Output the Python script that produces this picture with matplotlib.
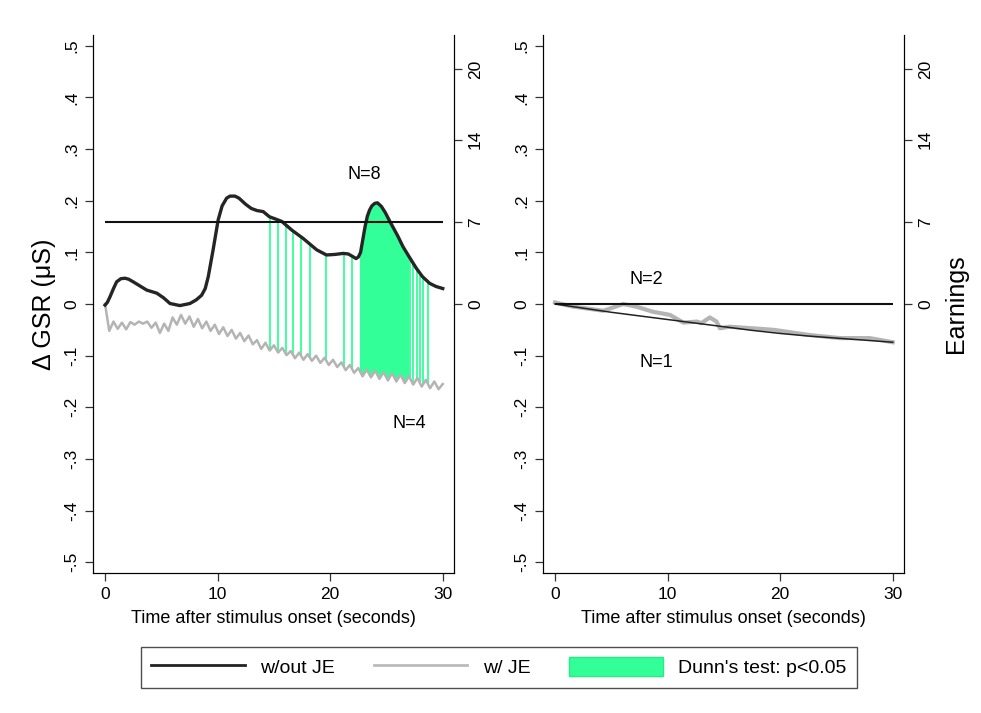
import numpy as np
import matplotlib
matplotlib.use("Agg")
import matplotlib.pyplot as plt
from matplotlib.lines import Line2D
from matplotlib.patches import Patch

plt.rcParams['font.family'] = ['Liberation Sans', 'DejaVu Sans']

# ---- data ----
# left panel, w/out JE (N=8)
black_t_left = [0, 0.2, 0.44, 0.75, 1.03, 1.4, 1.77, 2.1, 2.5, 3.1, 3.7, 4.6, 5.2,
                5.77, 6.65, 7.54, 8.1, 8.58, 8.9, 9.17, 9.6, 10.05, 10.4, 10.8, 11.1,
                11.54, 11.9, 12.5, 13.0, 13.5, 14.05, 14.6, 15.1, 15.7, 16.6, 17.6,
                18.8, 19.67, 20.4, 21.15, 21.6, 22.0, 22.3, 22.5, 22.7, 22.9, 23.1,
                23.3, 23.5, 23.7, 23.96, 24.2, 24.55, 24.9, 25.3, 25.7, 26.0, 26.47,
                27.0, 27.66, 28.2, 28.84, 29.4, 30.0]
black_left = [-0.002, 0.003, 0.014, 0.030, 0.043, 0.049, 0.050, 0.048, 0.043, 0.035,
              0.027, 0.021, 0.012, 0.001, -0.003, 0.001, 0.008, 0.017, 0.030, 0.053,
              0.105, 0.163, 0.190, 0.205, 0.209, 0.209, 0.205, 0.193, 0.185, 0.181,
              0.179, 0.169, 0.165, 0.160, 0.143, 0.127, 0.105, 0.095, 0.096, 0.098,
              0.097, 0.092, 0.088, 0.091, 0.100, 0.125, 0.150, 0.170, 0.182, 0.190,
              0.195, 0.196, 0.189, 0.177, 0.160, 0.144, 0.132, 0.111, 0.092, 0.069,
              0.053, 0.040, 0.034, 0.030]

# left panel, w/ JE (N=4), sampled every 0.375 s (peaks / troughs)
gray_left = [0.000, -0.052, -0.034, -0.048, -0.036, -0.049, -0.035, -0.040, -0.034,
             -0.038, -0.034, -0.046, -0.036, -0.056, -0.038, -0.052, -0.026, -0.040,
             -0.021, -0.038, -0.024, -0.044, -0.029, -0.047, -0.034, -0.052, -0.040,
             -0.058, -0.045, -0.062, -0.050, -0.067, -0.056, -0.072, -0.061, -0.078,
             -0.070, -0.087, -0.075, -0.090, -0.080, -0.094, -0.085, -0.099, -0.091,
             -0.105, -0.094, -0.108, -0.097, -0.110, -0.100, -0.114, -0.104, -0.118,
             -0.108, -0.122, -0.113, -0.128, -0.118, -0.133, -0.124, -0.140, -0.127,
             -0.142, -0.129, -0.145, -0.132, -0.148, -0.134, -0.150, -0.137, -0.153,
             -0.140, -0.156, -0.143, -0.160, -0.147, -0.163, -0.150, -0.165, -0.155]
gray_t_left = np.linspace(0, 30, len(gray_left))

# right panel, w/out JE
black_t_right = [0, 2.5, 5, 7.5, 10, 12.5, 15, 17.5, 20, 22.5, 25, 27.5, 30]
black_right = [0, -0.008, -0.016, -0.023, -0.030, -0.037, -0.044, -0.051, -0.057,
               -0.062, -0.066, -0.070, -0.074]

# right panel, w/ JE
gray_t_right = [0, 1.6, 4.3, 6.06, 7.2, 8.7, 10.2, 11.4, 12.6, 13.0, 13.75, 14.35,
                14.64, 15.5, 18.2, 19.4, 22.6, 25.3, 27.95, 30.0]
gray_right = [0.003, -0.005, -0.013, 0.000, -0.005, -0.015, -0.021, -0.036, -0.034,
              -0.037, -0.026, -0.034, -0.047, -0.044, -0.048, -0.050, -0.060, -0.066,
              -0.066, -0.074]

# Dunn's test p<0.05 (left panel only)
sig_times = [14.64, 15.4, 16.05, 16.72, 17.42, 18.17, 19.67, 21.22, 21.95,
             27.06, 27.4, 27.7, 27.95, 28.25, 28.65]
sig_block = (22.6, 27.0)

earnings = [7, 0]
n_labels = [("N=8", 23.0, 0.25, "N=4", 27.0, -0.232),
            ("N=2", 8.1, 0.047, "N=1", 9.0, -0.113)]

yticks = [-0.5, -0.4, -0.3, -0.2, -0.1, 0, 0.1, 0.2, 0.3, 0.4, 0.5]
yticklabels = ["-.5", "-.4", "-.3", "-.2", "-.1", "0", ".1", ".2", ".3", ".4", ".5"]
earn_ticks = [0, 7, 14, 20]

GREEN = '#33ff99'
GRAY = '#b4b4b4'
YLIM = 0.521
ELIM = 22.93

fig = plt.figure(figsize=(9.81, 7.13), dpi=100)
ax_l = fig.add_axes([0.0948, 0.1963, 0.368, 0.7546])
ax_r = fig.add_axes([0.5535, 0.1963, 0.368, 0.7546])


def style_panel(ax, earn, show_earn_label):
    ax.set_xlim(-1.07, 31.0)
    ax.set_ylim(-YLIM, YLIM)
    ax.set_xticks([0, 10, 20, 30])
    ax.set_yticks(yticks)
    ax.set_yticklabels(yticklabels, rotation=90, va='center')
    ax.tick_params(labelsize=12.5, length=6, width=0.9, color='#333333', pad=4)
    ax.spines['top'].set_visible(False)
    ax.set_xlabel("Time after stimulus onset (seconds)", fontsize=13, labelpad=6)
    ax2 = ax.twinx()
    ax2.set_ylim(-ELIM, ELIM)
    ax2.set_yticks(earn_ticks)
    ax2.set_yticklabels([str(v) for v in earn_ticks], rotation=90, va='center')
    ax2.tick_params(labelsize=12.5, length=6, width=0.9, color='#333333', pad=4)
    ax2.spines['top'].set_visible(False)
    ax2.hlines(earn, 0, 30, color='#111111', lw=1.5)
    if show_earn_label:
        ax2.set_ylabel("Earnings", fontsize=18, labelpad=8)
    return ax2


# left panel
style_panel(ax_l, earnings[0], False)
ax_l.set_ylabel("\u0394 GSR (\u03bcS)", fontsize=18, labelpad=6)

lo = np.interp(sig_times, gray_t_left, gray_left)
hi = np.interp(sig_times, black_t_left, black_left)
ax_l.vlines(sig_times, lo, hi, color=GREEN, lw=1.3, zorder=1)
tb = np.linspace(sig_block[0], sig_block[1], 200)
ax_l.fill_between(tb, np.interp(tb, gray_t_left, gray_left),
                  np.interp(tb, black_t_left, black_left),
                  color=GREEN, lw=0, zorder=1)

ax_l.plot(gray_t_left, gray_left, color=GRAY, lw=1.8, zorder=2,
          solid_joinstyle='round')
ax_l.plot(black_t_left, black_left, color='#252525', lw=2.4, zorder=3,
          solid_joinstyle='round')
lab = n_labels[0]
ax_l.text(lab[1], lab[2], lab[0], fontsize=13, ha='center', va='center')
ax_l.text(lab[4], lab[5], lab[3], fontsize=13, ha='center', va='center')

# right panel
style_panel(ax_r, earnings[1], True)
ax_r.plot(gray_t_right, gray_right, color=GRAY, lw=3, zorder=2)
ax_r.plot(black_t_right, black_right, color='#222222', lw=1.1, zorder=3)
lab = n_labels[1]
ax_r.text(lab[1], lab[2], lab[0], fontsize=13, ha='center', va='center')
ax_r.text(lab[4], lab[5], lab[3], fontsize=13, ha='center', va='center')

handles = [Line2D([], [], color='#222222', lw=2),
           Line2D([], [], color='#bbbbbb', lw=2),
           Patch(facecolor=GREEN, edgecolor='#22ee88')]
labels = ["w/out JE", "w/ JE", "Dunn's test: p<0.05"]
leg = fig.legend(handles, labels, loc='center', bbox_to_anchor=(0.5087, 0.064),
                 ncol=3, fontsize=14, frameon=True, fancybox=False,
                 handlelength=4.8, handleheight=1.1, handletextpad=0.8,
                 columnspacing=2.0, borderpad=0.55)
leg.get_frame().set_edgecolor('#222222')
leg.get_frame().set_linewidth(1.0)

fig.savefig("out.png", dpi=100)
